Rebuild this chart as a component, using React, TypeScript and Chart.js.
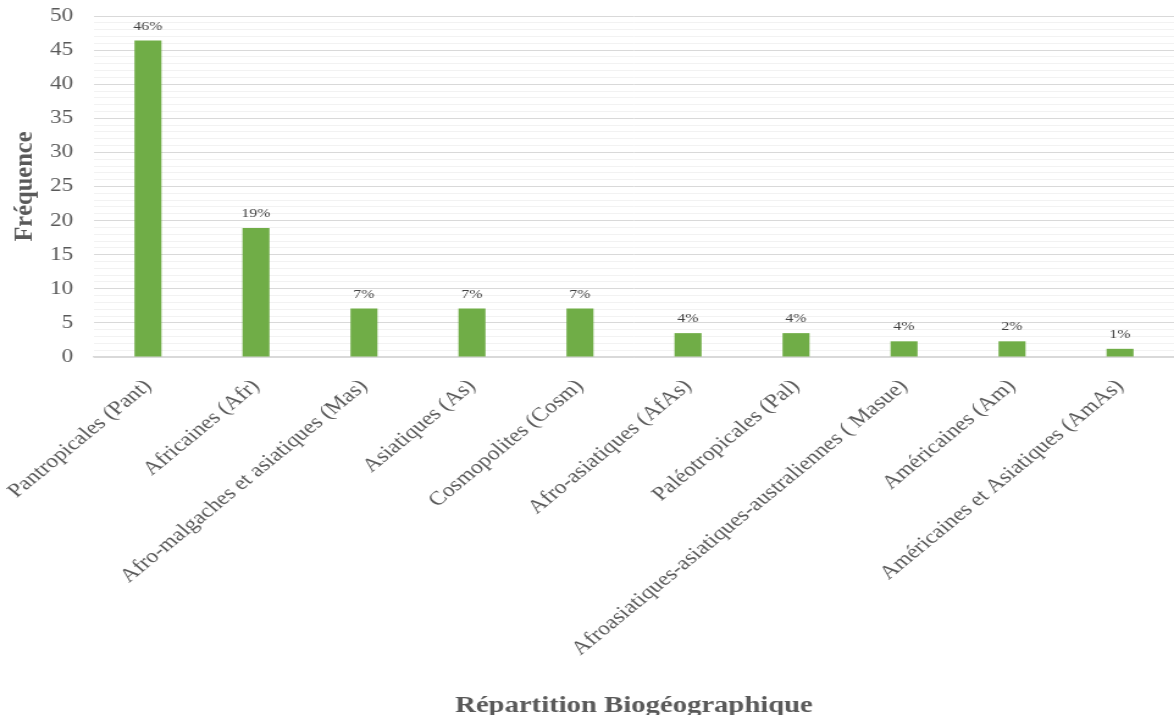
import React, { useEffect, useRef } from "react";
import { Chart, registerables } from "chart.js";

Chart.register(...registerables);

const categories = [
  "Pantropicales (Pant)",
  "Africaines (Afr)",
  "Afro-malgaches et asiatiques (Mas)",
  "Asiatiques (As)",
  "Cosmopolites (Cosm)",
  "Afro-asiatiques (AfAs)",
  "Paléotropicales (Pal)",
  "Afroasiatiques-asiatiques-australiennes ( Masue)",
  "Américaines (Am)",
  "Américaines et Asiatiques (AmAs)",
];
const frequencies = [46.4, 18.9, 7.1, 7.1, 7.1, 3.5, 3.5, 2.3, 2.3, 1.2];
const percentLabels = ["46%", "19%", "7%", "7%", "7%", "4%", "4%", "4%", "2%", "1%"];
const yTitle = "Fréquence";
const xTitle = "Répartition Biogéographique";

const STRETCH = 1.2204;
const INNER_W = 962;
const FONT = "'Liberation Serif', 'Times New Roman', serif";

export default function App() {
  const ref = useRef<HTMLCanvasElement | null>(null);

  useEffect(() => {
    document.body.style.margin = "0";
    document.body.style.overflow = "hidden";
    const canvas = ref.current;
    if (!canvas) return;

    const labelsPlugin = {
      id: "pctLabels",
      afterDatasetsDraw(chart: any) {
        const ctx = chart.ctx;
        const meta = chart.getDatasetMeta(0);
        ctx.save();
        ctx.font = `13px ${FONT}`;
        ctx.fillStyle = "#404040";
        ctx.textAlign = "center";
        ctx.textBaseline = "alphabetic";
        meta.data.forEach((bar: any, i: number) => {
          ctx.fillText(percentLabels[i], bar.x, bar.y - 11);
        });
        ctx.restore();
      },
    };

    const titlesPlugin = {
      id: "axisTitles",
      afterDraw(chart: any) {
        const ctx = chart.ctx;
        const area = chart.chartArea;
        ctx.save();
        ctx.fillStyle = "#595959";
        ctx.font = `bold 23.5px ${FONT}`;
        ctx.textAlign = "center";
        ctx.textBaseline = "alphabetic";
        ctx.fillText(xTitle, (area.left + area.right) / 2, 712);
        ctx.restore();

        ctx.save();
        ctx.fillStyle = "#595959";
        ctx.translate(25 / STRETCH, (area.top + area.bottom) / 2);
        ctx.scale(1 / STRETCH, 1);
        ctx.rotate(-Math.PI / 2);
        ctx.font = `bold 24.5px ${FONT}`;
        ctx.textAlign = "center";
        ctx.textBaseline = "middle";
        ctx.fillText(yTitle, 0, 0);
        ctx.restore();
      },
    };

    const chart = new Chart(canvas, {
      type: "bar",
      data: {
        labels: categories,
        datasets: [
          {
            data: frequencies,
            backgroundColor: "#70AD47",
            borderWidth: 0,
            categoryPercentage: 0.5,
            barPercentage: 0.5,
          },
        ],
      },
      options: {
        animation: false,
        responsive: true,
        maintainAspectRatio: false,
        layout: { padding: { top: 16, right: 0, left: 0, bottom: 0 } },
        plugins: {
          legend: { display: false },
          tooltip: { enabled: false },
        },
        scales: {
          x: {
            grid: { display: false },
            border: { display: true, color: "#d9d9d9", width: 1.5 },
            ticks: {
              maxRotation: 45,
              minRotation: 45,
              autoSkip: false,
              padding: 10,
              color: "#595959",
              font: { family: FONT, size: 19.5 },
            },
            afterFit(scale: any) {
              scale.height = 358;
              scale.paddingLeft = 0;
              scale.paddingRight = 0;
            },
          },
          y: {
            min: 0,
            max: 50,
            border: { display: false },
            grid: {
              drawTicks: false,
              color: (c: any) => (c.tick && c.tick.value % 5 === 0 ? "#d9d9d9" : "#f2f2f2"),
            },
            ticks: {
              stepSize: 1,
              autoSkip: false,
              padding: 17,
              color: "#595959",
              font: { family: FONT, size: 19 },
              callback: (v: any) => (Number(v) % 5 === 0 ? String(v) : ""),
            },
            afterFit(scale: any) {
              scale.width = 77;
              scale.paddingTop = 10;
              scale.paddingBottom = 0;
            },
          },
        },
      },
      plugins: [labelsPlugin, titlesPlugin],
    });

    return () => chart.destroy();
  }, []);

  return (
    <div
      style={{
        position: "relative",
        width: `${INNER_W}px`,
        height: "715px",
        transform: `scaleX(${STRETCH})`,
        transformOrigin: "0 0",
      }}
    >
      <canvas ref={ref} />
    </div>
  );
}
